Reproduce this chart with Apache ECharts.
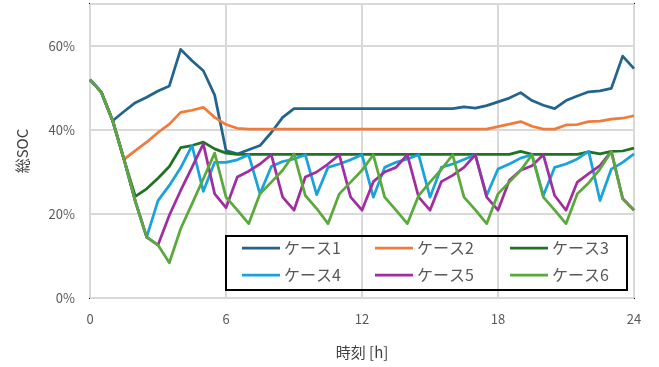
<!DOCTYPE html>
<html>
<head>
<meta charset="utf-8">
<script src="https://cdn.jsdelivr.net/npm/echarts@6/dist/echarts.min.js"></script>
<style>
html,body{margin:0;padding:0;background:#fff;}
#chart{width:659px;height:367px;}
</style>
</head>
<body>
<div id="chart"></div>
<script>
const hours = [0,0.5,1,1.5,2,2.5,3,3.5,4,4.5,5,5.5,6,6.5,7,7.5,8,8.5,9,9.5,10,10.5,11,11.5,12,12.5,13,13.5,14,14.5,15,15.5,16,16.5,17,17.5,18,18.5,19,19.5,20,20.5,21,21.5,22,22.5,23,23.5,24];
const seriesNames = ['ケース1','ケース2','ケース3','ケース4','ケース5','ケース6'];
const xTicks = [0, 6, 12, 18, 24];
const yTicks = [0, 20, 40, 60];

const case1 = [52.0,49.0,42.2,44.4,46.5,47.8,49.3,50.5,59.2,56.5,54.1,48.3,35.1,34.3,35.3,36.3,39.4,43.0,45.1,45.1,45.1,45.1,45.1,45.1,45.1,45.1,45.1,45.1,45.1,45.1,45.1,45.1,45.1,45.5,45.2,45.8,46.7,47.6,48.9,47.0,45.9,45.1,47.0,48.1,49.1,49.3,49.9,57.6,54.6];
const case2 = [52.0,49.0,42.2,33.0,35.1,37.1,39.4,41.4,44.2,44.7,45.4,43.0,41.3,40.4,40.2,40.2,40.2,40.2,40.2,40.2,40.2,40.2,40.2,40.2,40.2,40.2,40.2,40.2,40.2,40.2,40.2,40.2,40.2,40.2,40.2,40.2,40.8,41.4,42.0,40.9,40.2,40.2,41.2,41.3,42.0,42.1,42.6,42.8,43.4];
const case3 = [52.0,49.0,42.2,33.0,24.2,26.0,28.5,31.3,35.8,36.3,37.1,35.5,34.5,34.2,34.2,34.2,34.2,34.2,34.2,34.2,34.2,34.2,34.2,34.2,34.2,34.2,34.2,34.2,34.2,34.2,34.2,34.2,34.2,34.2,34.2,34.2,34.2,34.2,34.9,34.2,34.2,34.2,34.2,34.2,34.8,34.3,34.9,35.0,35.7];
const case4 = [52.0,49.0,42.2,33.0,23.0,14.5,23.2,26.8,31.0,36.3,25.4,32.3,32.3,32.9,34.1,24.8,31.3,32.5,33.1,34.1,24.6,31.1,31.9,32.9,34.1,24.0,31.1,32.3,33.1,34.1,24.0,31.1,31.9,33.0,34.1,24.4,30.7,31.9,33.3,34.1,24.4,31.1,31.9,33.1,34.9,23.2,30.7,32.3,34.3];
const case5 = [52.0,49.0,42.2,33.0,23.0,14.5,12.6,19.7,25.6,31.1,36.7,24.8,21.5,28.8,30.2,31.9,34.1,24.0,20.9,28.8,30.0,31.9,34.1,24.0,20.9,27.7,30.0,31.1,34.1,24.0,20.9,27.7,29.2,31.1,34.1,24.0,20.9,28.0,30.4,31.5,34.1,24.4,20.9,27.6,29.6,31.5,34.9,23.7,20.9];
const case6 = [52.0,49.0,42.2,33.0,23.0,14.5,12.6,8.4,16.5,22.4,28.4,34.5,24.0,20.9,17.7,24.8,27.6,30.4,34.3,24.4,21.3,17.7,24.8,27.6,30.4,34.1,24.0,20.9,17.7,24.4,27.6,30.6,34.1,24.0,21.0,17.7,24.8,27.6,30.4,34.1,24.0,20.9,17.7,24.8,27.4,30.7,34.9,23.6,20.9];

const allCases = [case1, case2, case3, case4, case5, case6];
const colors = ['#22648C','#F07B3A','#1E7324','#1AA3DB','#A12EA0','#5AAA3B'];

const FONT = '"Noto Sans CJK JP", "Noto Sans", sans-serif';

// Legend drawn as graphic elements (box + line samples + text)
const legendCols = [242, 375, 510];
const legendRows = [248, 275];
const legendGraphics = [{
  type: 'rect', left: 225, top: 235, z: 100, silent: true,
  shape: {x: 0, y: 0, width: 401, height: 54},
  style: {fill: 'transparent', stroke: '#000000', lineWidth: 2}
}];
seriesNames.forEach((name, k) => {
  const x0 = legendCols[k % 3];
  const y0 = legendRows[Math.floor(k / 3)];
  legendGraphics.push({
    type: 'line', z: 101, silent: true,
    shape: {x1: x0, y1: y0, x2: x0 + 38, y2: y0},
    style: {stroke: colors[k], lineWidth: 2.75}
  });
  legendGraphics.push({
    type: 'text', z: 101, silent: true, x: x0 + 42, y: y0,
    style: {text: name, fill: '#595959', font: '16px ' + FONT, textVerticalAlign: 'middle', verticalAlign: 'middle', textAlign: 'left'}
  });
});

const chart = echarts.init(document.getElementById('chart'), null, {renderer: 'canvas'});
const option = {
  animation: false,
  backgroundColor: '#ffffff',
  textStyle: {fontFamily: FONT},
  grid: {
    left: 90, right: 25, top: 4, bottom: 69,
    show: true, borderColor: '#000000', borderWidth: 2, backgroundColor: 'transparent',
    containLabel: false
  },
  graphic: legendGraphics,
  xAxis: {
    type: 'value', min: 0, max: 24, interval: 6,
    name: '時刻 [h]', nameLocation: 'middle', nameGap: 47,
    nameTextStyle: {fontFamily: FONT, fontSize: 15, color: '#404040'},
    axisLine: {show: false}, axisTick: {show: false},
    axisLabel: {
      color: '#595959', fontSize: 13, margin: 15, fontFamily: FONT,
      formatter: v => xTicks.indexOf(v) >= 0 ? String(v) : ''
    },
    splitLine: {show: true, lineStyle: {color: '#D9D9D9', width: 2}}
  },
  yAxis: {
    type: 'value', min: 0, max: 70, interval: 20,
    name: '総SOC', nameLocation: 'middle', nameGap: 60,
    nameTextStyle: {fontFamily: FONT, fontSize: 15, color: '#404040'},
    axisLine: {show: false}, axisTick: {show: false},
    axisLabel: {
      color: '#595959', fontSize: 13, margin: 15, fontFamily: FONT,
      formatter: v => yTicks.indexOf(v) >= 0 ? v + '%' : ''
    },
    splitLine: {show: true, lineStyle: {color: '#D9D9D9', width: 2}}
  },
  series: allCases.map((vals, k) => ({
    name: seriesNames[k],
    type: 'line',
    data: hours.map((h, i) => [h, vals[i]]),
    symbol: 'none',
    showSymbol: false,
    color: colors[k],
    emphasis: {disabled: true},
    lineStyle: {width: 2.75, color: colors[k], join: 'round'},
    z: 2 + k
  }))
};
chart.setOption(option);
</script>
</body>
</html>
